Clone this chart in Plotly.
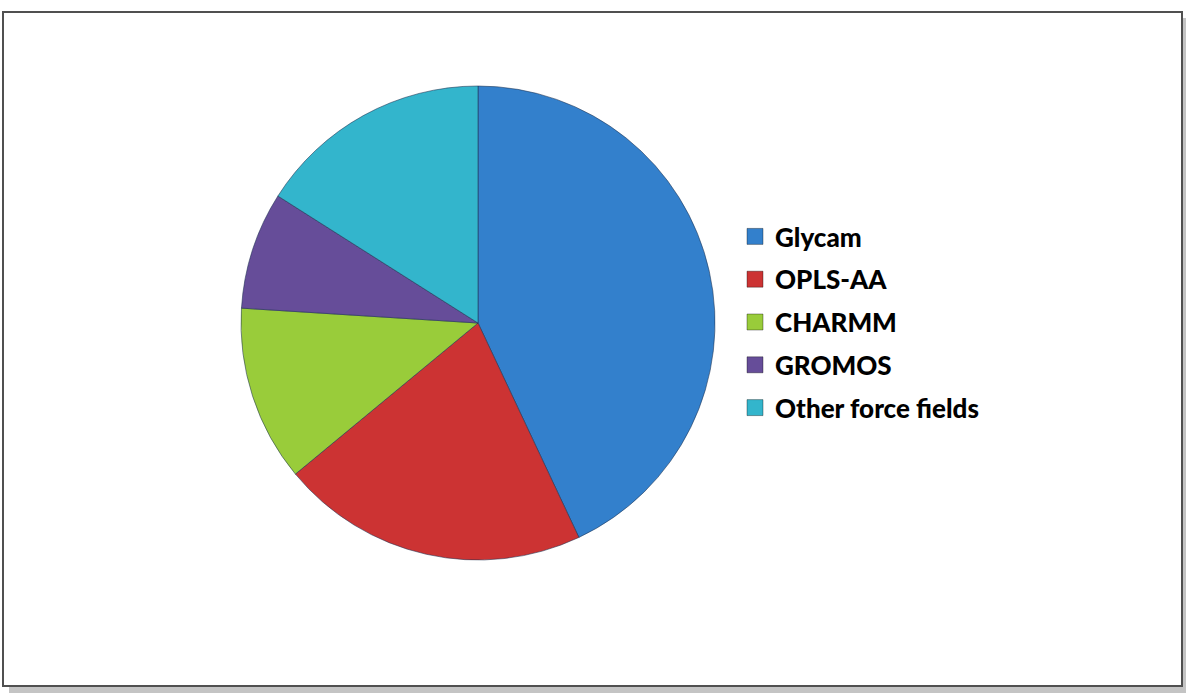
import plotly.graph_objects as go

# Force-field usage shares (percent)
labels = ["Glycam", "OPLS-AA", "CHARMM", "GROMOS", "Other force fields"]
values = [43, 21, 12, 8, 16]
colors = ["#3380CC", "#CC3333", "#99CC3A", "#664D99", "#33B5CC"]

W, H = 1186, 697


def px_x(x):
    return x / W


def px_y(y):
    return 1 - y / H


fig = go.Figure()

# Pie, drawn clockwise from 12 o'clock
cx, cy, r = 478, 323, 237
fig.add_trace(go.Pie(
    labels=labels,
    values=values,
    sort=False,
    direction="clockwise",
    rotation=0,
    textinfo="none",
    hoverinfo="label+percent",
    marker=dict(colors=colors, line=dict(color="rgba(30,50,80,0.55)", width=1)),
    domain=dict(x=[px_x(cx - r), px_x(cx + r)], y=[px_y(cy + r), px_y(cy - r)]),
    showlegend=False,
))

# Legend entries (square swatches), one group each so they can be spaced apart
for lab, col in zip(labels, colors):
    fig.add_trace(go.Scatter(
        x=[None], y=[None], mode="markers", name=lab,
        legendgroup=lab,
        marker=dict(symbol="square", size=16, color=col,
                    line=dict(color="rgba(0,0,0,0.35)", width=1)),
    ))

# Frame with a drop shadow
shapes = [
    dict(type="rect", xref="paper", yref="paper",
         x0=px_x(9), x1=px_x(1188), y0=px_y(693), y1=px_y(18),
         fillcolor="#c4c4c4", line=dict(width=0), layer="below"),
    dict(type="rect", xref="paper", yref="paper",
         x0=px_x(3), x1=px_x(1182), y0=px_y(686), y1=px_y(12),
         fillcolor="white", line=dict(color="#505050", width=2), layer="below"),
]

fig.update_layout(
    width=W, height=H,
    margin=dict(l=0, r=0, t=0, b=0),
    paper_bgcolor="white",
    plot_bgcolor="rgba(0,0,0,0)",
    shapes=shapes,
    xaxis=dict(visible=False),
    yaxis=dict(visible=False),
    legend=dict(
        x=px_x(735), y=px_y(213), xanchor="left", yanchor="top",
        font=dict(family="Lato", size=26, color="black", weight=900),
        tracegroupgap=6,
        bgcolor="rgba(0,0,0,0)",
        itemclick=False, itemdoubleclick=False,
    ),
)

fig.write_html("out.html")
